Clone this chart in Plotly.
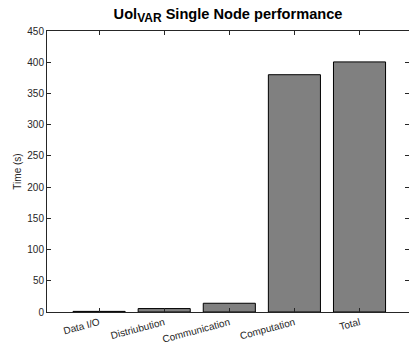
import plotly.graph_objects as go

# Stage timings for a single node run (seconds)
stages = ["Data I/O", "Distriubution", "Communication", "Computation", "Total"]
times = [1.0, 5.5, 14.0, 380.0, 400.5]
y_ticks = [0, 50, 100, 150, 200, 250, 300, 350, 400, 450]

positions = list(range(1, len(stages) + 1))
axis_color = "#262626"
font_family = "Liberation Sans, Arial, Helvetica, sans-serif"

fig = go.Figure(
    go.Bar(
        x=positions,
        y=times,
        width=0.8,
        marker=dict(color="#808080", line=dict(color="#000000", width=1)),
    )
)

fig.update_layout(
    width=409,
    height=348,
    margin=dict(l=47, r=0, t=31, b=36),
    paper_bgcolor="white",
    plot_bgcolor="white",
    showlegend=False,
    font=dict(family=font_family, color=axis_color, size=10),
    title=dict(
        text='<b>Uol<sub><span style="font-size:12px">VAR</span></sub> Single Node performance</b>',
        x=0.5575,
        xanchor="center",
        y=0.960,
        yanchor="middle",
        font=dict(family=font_family, size=14.6, color="#000000"),
    ),
)

fig.update_xaxes(
    range=[0.2, 5.76],
    tickmode="array",
    tickvals=positions,
    ticktext=stages,
    tickangle=-15,
    ticks="inside",
    ticklen=4,
    tickcolor=axis_color,
    showline=True,
    linecolor=axis_color,
    linewidth=1,
    mirror="ticks",
    showgrid=False,
    zeroline=False,
    tickfont=dict(size=10, color=axis_color),
)

fig.update_yaxes(
    range=[0, 450],
    tickmode="array",
    tickvals=y_ticks,
    ticks="inside",
    ticklen=4,
    tickcolor=axis_color,
    showline=True,
    linecolor=axis_color,
    linewidth=1,
    mirror="ticks",
    showgrid=False,
    zeroline=False,
    tickfont=dict(size=10, color=axis_color),
    title=dict(text="Time (s)", font=dict(size=10, color=axis_color), standoff=3),
)

fig.write_html("out.html")
